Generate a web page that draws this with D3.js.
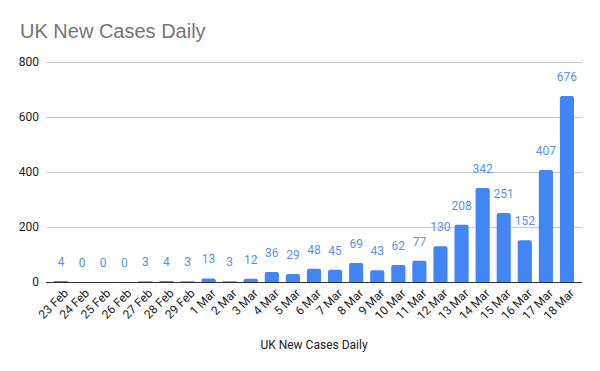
<!DOCTYPE html>
<html><head><meta charset="utf-8">
<script src="https://cdn.jsdelivr.net/npm/d3@7"></script>
<style>body{margin:0;background:#fff}svg{display:block;font-family:Roboto,Arial,sans-serif}</style>
</head><body><svg id="c" width="600" height="371"></svg>
<script>
const categories = ["23 Feb","24 Feb","25 Feb","26 Feb","27 Feb","28 Feb","29 Feb","1 Mar","2 Mar","3 Mar","4 Mar","5 Mar","6 Mar","7 Mar","8 Mar","9 Mar","10 Mar","11 Mar","12 Mar","13 Mar","14 Mar","15 Mar","16 Mar","17 Mar","18 Mar"];
const values = [4,0,0,0,3,4,3,13,3,12,36,29,48,45,69,43,62,77,130,208,342,251,152,407,676];
const yTicks = [0,200,400,600,800];
const title = "UK New Cases Daily";
const xTitle = "UK New Cases Daily";

(function(){
const svg = d3.select("#c");
const pl = 46, pr = 582, pt = 62, pb = 282;
const x = d3.scaleBand().domain(categories).range([50.5, 577.5]).paddingInner(0.33).paddingOuter(0.165);
const y = d3.scaleLinear().domain([0, 800]).range([pb, pt]);

svg.append("text").attr("x", 20).attr("y", 38).attr("font-size", 20)
  .attr("font-family", "'Liberation Sans', Arial, sans-serif")
  .attr("fill", "#757575").text(title);

const grid = svg.append("g");
grid.selectAll("line").data(yTicks).join("line")
  .attr("x1", pl).attr("x2", pr)
  .attr("y1", d => y(d)).attr("y2", d => y(d))
  .attr("stroke", d => d === 0 ? "#333" : "#ccc").attr("stroke-width", 1)
  .attr("shape-rendering", "crispEdges");
grid.selectAll("text").data(yTicks).join("text")
  .attr("x", 39).attr("y", d => y(d) + 4).attr("text-anchor", "end")
  .attr("font-size", 12).attr("fill", "#222").text(d => d);

const bw = x.bandwidth();
svg.append("g").selectAll("path").data(values).join("path")
  .attr("fill", "#4285f4")
  .attr("d", (d, i) => {
    const x0 = x(categories[i]), y0 = y(d), h = pb - y0;
    if (h <= 0) return "";
    const r = Math.min(2, h / 2);
    return `M${x0},${pb}V${y0 + r}Q${x0},${y0} ${x0 + r},${y0}H${x0 + bw - r}Q${x0 + bw},${y0} ${x0 + bw},${y0 + r}V${pb}Z`;
  });

svg.append("line").attr("x1", pl).attr("x2", pr).attr("y1", y(0)).attr("y2", y(0))
  .attr("stroke", "#333").attr("shape-rendering", "crispEdges");

svg.append("g").selectAll("text").data(values).join("text")
  .attr("x", (d, i) => x(categories[i]) + bw / 2)
  .attr("y", d => y(d) - 15)
  .attr("text-anchor", "middle").attr("font-size", 12).attr("fill", "#5a8ff2")
  .text(d => d);

svg.append("g").selectAll("text").data(categories).join("text")
  .attr("transform", d => `translate(${x(d) + bw / 2 + 5},${pb + 9}) rotate(-45)`)
  .attr("text-anchor", "end").attr("font-size", 12).attr("fill", "#222")
  .attr("dy", "0.35em")
  .text(d => d);

svg.append("text").attr("x", 314).attr("y", 349).attr("text-anchor", "middle")
  .attr("font-size", 12).attr("fill", "#222").text(xTitle);
})();
</script></body></html>
